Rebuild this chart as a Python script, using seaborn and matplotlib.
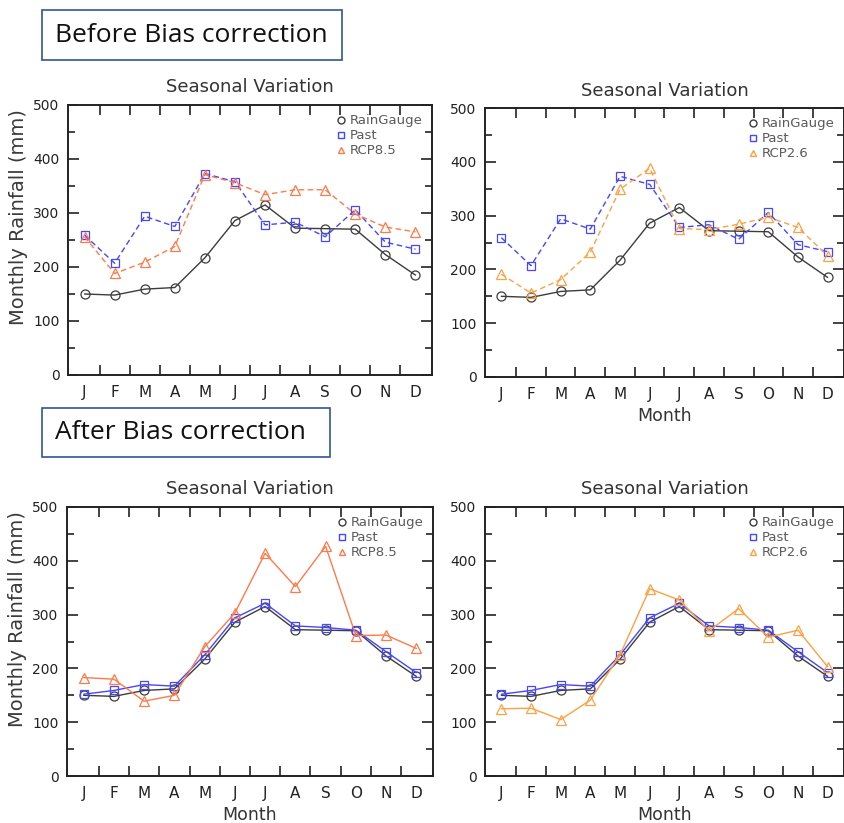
import matplotlib
matplotlib.use("Agg")
import matplotlib.pyplot as plt
import pandas as pd
import seaborn as sns
from matplotlib.lines import Line2D
from matplotlib.patches import Rectangle
from matplotlib.ticker import MultipleLocator, FixedLocator

# Monthly rainfall (mm)
months = ["J", "F", "M", "A", "M", "J", "J", "A", "S", "O", "N", "D"]
rain_gauge = [150, 148, 159, 162, 217, 286, 315, 272, 271, 270, 223, 185]
past_before = [259, 207, 294, 275, 373, 358, 278, 283, 256, 306, 246, 233]
rcp85_before = [256, 188, 209, 238, 371, 356, 334, 343, 343, 298, 274, 265]
rcp26_before = [191, 156, 181, 232, 349, 388, 276, 274, 284, 297, 278, 225]
past_after = [152, 159, 170, 167, 225, 294, 321, 279, 276, 271, 231, 192]
rcp85_after = [183, 180, 139, 150, 240, 303, 414, 352, 427, 261, 262, 237]
rcp26_after = [125, 126, 105, 141, 225, 348, 327, 270, 311, 258, 271, 203]

sns.set_theme(style="white")
plt.rcParams["font.family"] = ["DejaVu Sans"]

C_GAUGE = "#3c3c3c"
C_PAST = "#4646ff"
C_RCP85 = "#ff7a4a"
C_RCP26 = "#ffa043"

W, H = 845, 823
fig = plt.figure(figsize=(W / 100, H / 100), dpi=100)


def axes_px(left, top, right, bottom):
    return fig.add_axes([left / W, 1 - bottom / H, (right - left) / W, (bottom - top) / H])


def draw_panel(ax, past, rcp, rcp_name, rcp_color, dashed, ylabel, xlabel):
    x = list(range(1, 13))
    df = pd.DataFrame({"month": x, "gauge": rain_gauge, "past": past, "rcp": rcp})
    ls = (0, (4, 2.5)) if dashed else "-"
    common = dict(ax=ax, data=df, x="month", linewidth=1.0, markersize=6.5,
                  markerfacecolor="none", markeredgewidth=0.9)
    sns.lineplot(y="gauge", color=C_GAUGE, marker="o", linestyle="-",
                 markeredgecolor=C_GAUGE, **common)
    sns.lineplot(y="past", color=C_PAST, marker="s", linestyle=ls,
                 markeredgecolor=C_PAST, **{**common, "markersize": 5.8})
    sns.lineplot(y="rcp", color=rcp_color, marker="^", linestyle=ls,
                 markeredgecolor=rcp_color, **common)

    ax.set_xlim(0.45, 12.55)
    ax.set_ylim(0, 500)
    ax.set_xticks(x)
    ax.set_xticklabels(months, fontsize=11, color="#222222")
    ax.xaxis.set_minor_locator(FixedLocator([i + 0.5 for i in range(1, 12)]))
    ax.yaxis.set_major_locator(MultipleLocator(100))
    ax.yaxis.set_minor_locator(MultipleLocator(50))
    ax.tick_params(axis="x", which="major", length=0, pad=7)
    ax.tick_params(axis="x", which="minor", direction="in", length=7, width=1.2,
                   top=True, bottom=True, color="#222222")
    ax.tick_params(axis="y", which="major", direction="in", length=8, width=1.2,
                   left=True, right=True, labelsize=10, pad=6, color="#222222",
                   labelcolor="#222222")
    ax.tick_params(axis="y", which="minor", direction="in", length=5, width=1.2,
                   left=True, right=True, color="#222222")
    for s in ax.spines.values():
        s.set_color("#222222")
        s.set_linewidth(1.4)
    ax.set_title("Seasonal Variation", fontsize=13, color="#333333", pad=9)
    if ylabel:
        ax.set_ylabel("Monthly Rainfall (mm)", fontsize=14, color="#3a3a3a")
        ax.yaxis.set_label_coords(-0.11, 0.585)
    else:
        ax.set_ylabel("")
    ax.set_xlabel("Month" if xlabel else "", fontsize=12.5, color="#333333", labelpad=4)

    handles = [
        Line2D([], [], linestyle="none", marker="o", markersize=5,
               markerfacecolor="none", markeredgecolor=C_GAUGE, label="RainGauge"),
        Line2D([], [], linestyle="none", marker="s", markersize=4.5,
               markerfacecolor="none", markeredgecolor=C_PAST, label="Past"),
        Line2D([], [], linestyle="none", marker="^", markersize=5,
               markerfacecolor="none", markeredgecolor=rcp_color, label=rcp_name),
    ]
    leg = ax.legend(handles=handles, loc="upper right", bbox_to_anchor=(1.0, 1.0),
                    frameon=False, fontsize=9.5, handlelength=0.5, handletextpad=0.4,
                    labelspacing=0.15, borderaxespad=0.3)
    for t in leg.get_texts():
        t.set_color("#5a5a5a")


ax1 = axes_px(68, 105, 432, 375)
draw_panel(ax1, past_before, rcp85_before, "RCP8.5", C_RCP85, True, True, False)
ax2 = axes_px(485, 108, 844, 377)
draw_panel(ax2, past_before, rcp26_before, "RCP2.6", C_RCP26, True, False, True)
ax3 = axes_px(67, 507, 433, 776)
draw_panel(ax3, past_after, rcp85_after, "RCP8.5", C_RCP85, False, True, True)
ax4 = axes_px(485, 507, 844, 776)
draw_panel(ax4, past_after, rcp26_after, "RCP2.6", C_RCP26, False, False, True)

# Section headings in outlined boxes
for (l, t, r, b, txt) in [(42, 10, 342, 60, "Before Bias correction"),
                          (42, 408, 330, 457, "After Bias correction")]:
    fig.add_artist(Rectangle((l / W, 1 - b / H), (r - l) / W, (b - t) / H,
                             transform=fig.transFigure, fill=False,
                             edgecolor="#2f5597", linewidth=1.2))
    fig.text((l + 13) / W, 1 - ((t + b) / 2) / H, txt, fontsize=19,
             family=["Open Sans", "DejaVu Sans"], va="center", ha="left",
             color="#111111")

fig.savefig("out.png", dpi=100)
